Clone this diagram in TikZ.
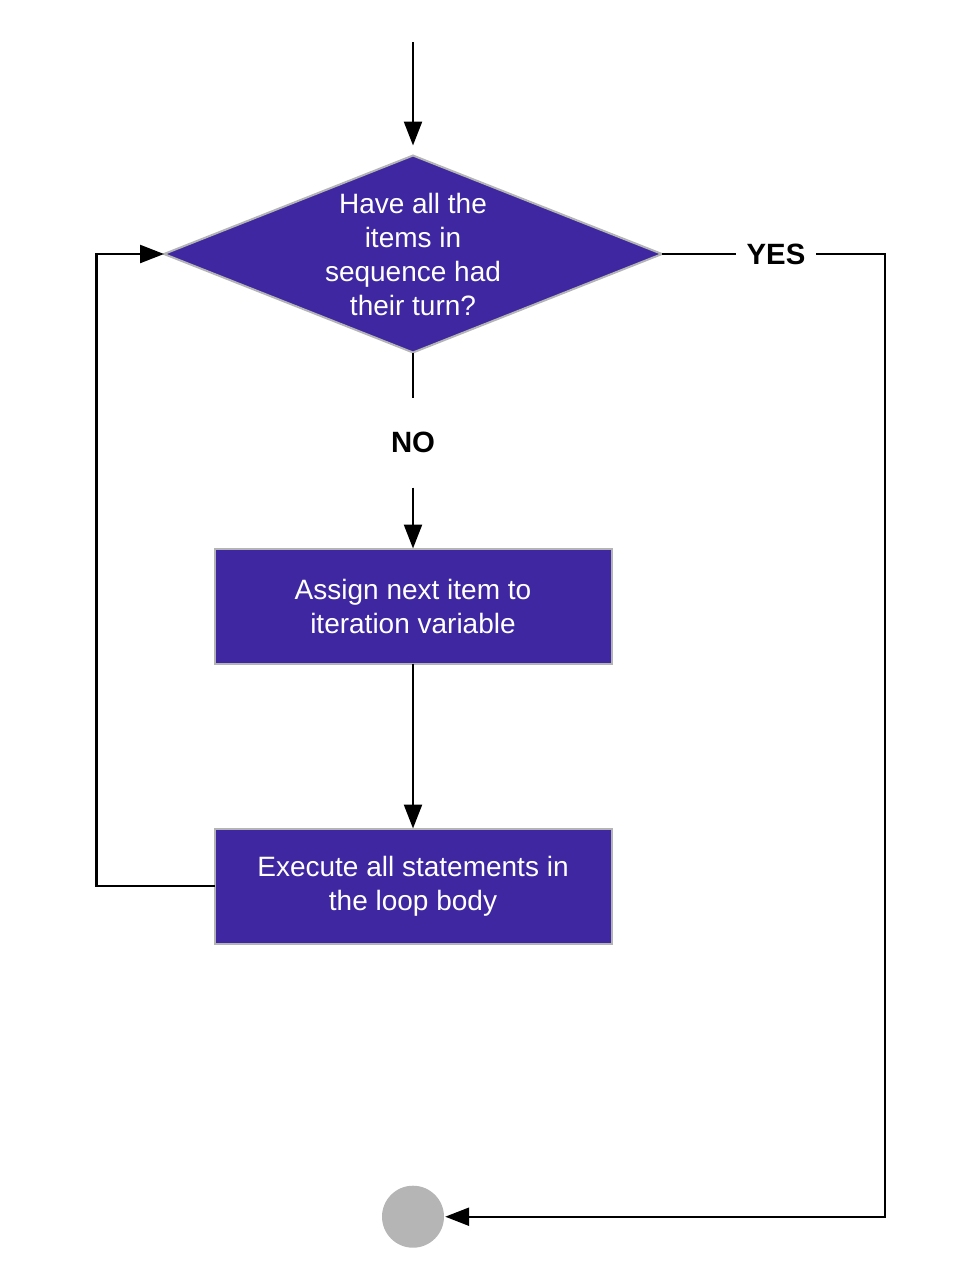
\documentclass[tikz,border=0pt]{standalone}
\usepackage{fontspec}
\setmainfont{Liberation Sans}
\usetikzlibrary{shapes.geometric,arrows.meta,positioning}
\definecolor{loopfill}{HTML}{3E27A0}
\definecolor{loopedge}{HTML}{B4B4B4}
\definecolor{endfill}{HTML}{B5B5B5}

\begin{document}
\begin{tikzpicture}[x=0.75pt,y=-0.75pt,line width=1.8pt,
                >={Triangle[length=18pt,width=13.5pt]},
                test node/.style={diamond,aspect=2.53,draw=loopedge,fill=loopfill,text=white,line width=1.5pt,
                  inner sep=-2pt,outer sep=0pt,minimum width=373.5pt,minimum height=147.75pt,
                  align=center,font=\fontsize{21}{25.5}\selectfont},
                step node/.style={rectangle,draw=loopedge,fill=loopfill,text=white,line width=1.5pt,
                  inner sep=0pt,outer sep=0pt,minimum width=297.75pt,minimum height=86.25pt,
                  align=center,font=\fontsize{21}{25.5}\selectfont},
                answer/.style={inner sep=0pt,outer sep=0pt,font=\bfseries\fontsize{22}{26}\selectfont}]

      \useasboundingbox (0,0) rectangle (976,1272);

      \coordinate (start) at (413,42);
      \node[test node] (q) at (413,254) {Have all the\\items in\\sequence had\\their turn?};
      \node[answer, minimum height=67.5pt] (no) [below=33.75pt of q] {NO};
      \node[answer, minimum width=60pt] (yes) [right=55.5pt of q] {YES};
      \node[step node] (assign) [below=147pt of q] {Assign next item to\\iteration variable};
      \node[step node] (body) [below=123.75pt of assign] {Execute all statements in\\the loop body};
      \node[circle,fill=endfill,inner sep=0pt,minimum size=46.5pt] (stop) [below=180.75pt of body] {};
      \coordinate (turn) at (885,254);

      \draw[->, shorten >=7.5pt] (start) -- (q.north);
      \draw (q.south) -- (no.north);
      \draw[->] (no.south) -- (assign.north);
      \draw[->] (assign.south) -- (body.north);
      \draw[->] (body.west) -- ++(-118,0) |- (q.west);
      \draw (q.east) -- (yes.west);
      \draw[->] (yes.east) -- (turn) |- (stop.east);
  \end{tikzpicture}
\end{document}
